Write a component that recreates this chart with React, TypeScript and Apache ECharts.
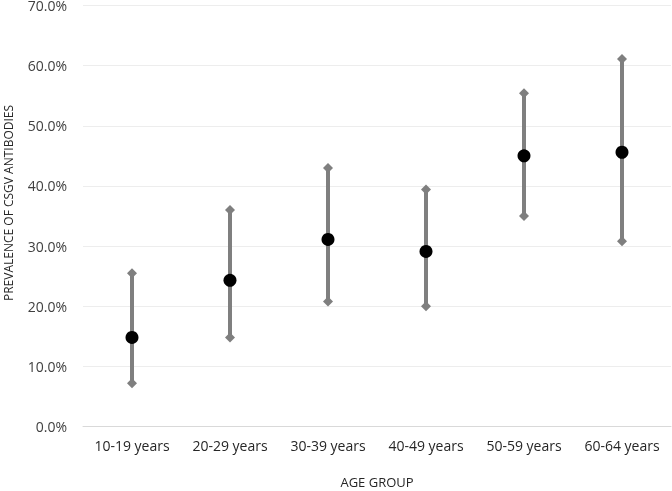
import React, { useEffect, useRef } from "react";
import * as echarts from "echarts";

const categories = ["10-19 years", "20-29 years", "30-39 years", "40-49 years", "50-59 years", "60-64 years"];
const prevalence = [14.8, 24.3, 31.1, 29.1, 45.0, 45.6];
const lowerCI = [7.2, 14.8, 20.8, 20.0, 35.0, 30.8];
const upperCI = [25.5, 36.0, 43.0, 39.4, 55.4, 61.1];

const FONT = "Open Sans";

export default function App() {
  const ref = useRef<HTMLDivElement>(null);
  useEffect(() => {
    if (!ref.current) return;
    const chart = echarts.init(ref.current, undefined, { renderer: "svg" });
    const errData = categories.map((_, i) => [i, lowerCI[i], upperCI[i]]);
    const option: any = {
      animation: false,
      grid: { left: 83, right: 1, top: 5.5, bottom: 64.5, containLabel: false, outerBoundsMode: "none" },
      xAxis: {
        type: "category",
        data: categories,
        name: "AGE GROUP",
        nameLocation: "middle",
        nameGap: 49,
        nameTextStyle: { fontFamily: FONT, fontSize: 13, color: "#262626" },
        axisLine: { lineStyle: { color: "#d9d9d9", width: 1 } },
        axisTick: { show: false },
        axisLabel: { fontFamily: FONT, fontSize: 14, color: "#262626", margin: 12 },
        splitLine: { show: false },
      },
      yAxis: {
        type: "value",
        min: 0,
        max: 70,
        interval: 10,
        name: "PREVALENCE OF CSGV ANTIBODIES",
        nameLocation: "middle",
        nameRotate: 90,
        nameGap: 69,
        nameTextStyle: { fontFamily: FONT, fontSize: 12, color: "#262626", padding: [0, 0, 0, 26] },
        axisLine: { show: false },
        axisTick: { show: false },
        axisLabel: {
          fontFamily: FONT,
          fontSize: 14,
          color: "#404040",
          margin: 16,
          formatter: (v: number) => v.toFixed(1) + "%",
        },
        splitLine: { lineStyle: { color: "#ededed", width: 1 } },
      },
      series: [
        {
          type: "custom",
          data: errData,
          encode: { x: 0, y: [1, 2] },
          renderItem: (params: any, api: any) => {
            const idx = api.value(0);
            const lo = api.coord([idx, api.value(1)]);
            const hi = api.coord([idx, api.value(2)]);
            const d = 5;
            const diamond = (p: number[]) => ({
              type: "polygon",
              shape: {
                points: [
                  [p[0], p[1] - d],
                  [p[0] + d, p[1]],
                  [p[0], p[1] + d],
                  [p[0] - d, p[1]],
                ],
              },
              style: { fill: "#7f7f7f" },
            });
            return {
              type: "group",
              children: [
                {
                  type: "line",
                  shape: { x1: lo[0], y1: lo[1], x2: hi[0], y2: hi[1] },
                  style: { stroke: "#7f7f7f", lineWidth: 4 },
                },
                diamond(lo),
                diamond(hi),
              ],
            };
          },
          z: 2,
        },
        {
          type: "scatter",
          data: prevalence,
          symbol: "circle",
          symbolSize: 13,
          itemStyle: { color: "#000000", opacity: 1 },
          emphasis: { disabled: true },
          z: 3,
        },
      ],
    };
    chart.setOption(option);
    return () => chart.dispose();
  }, []);
  return <div ref={ref} style={{ position: "fixed", left: 0, top: 0, width: 672, height: 491 }} />;
}
